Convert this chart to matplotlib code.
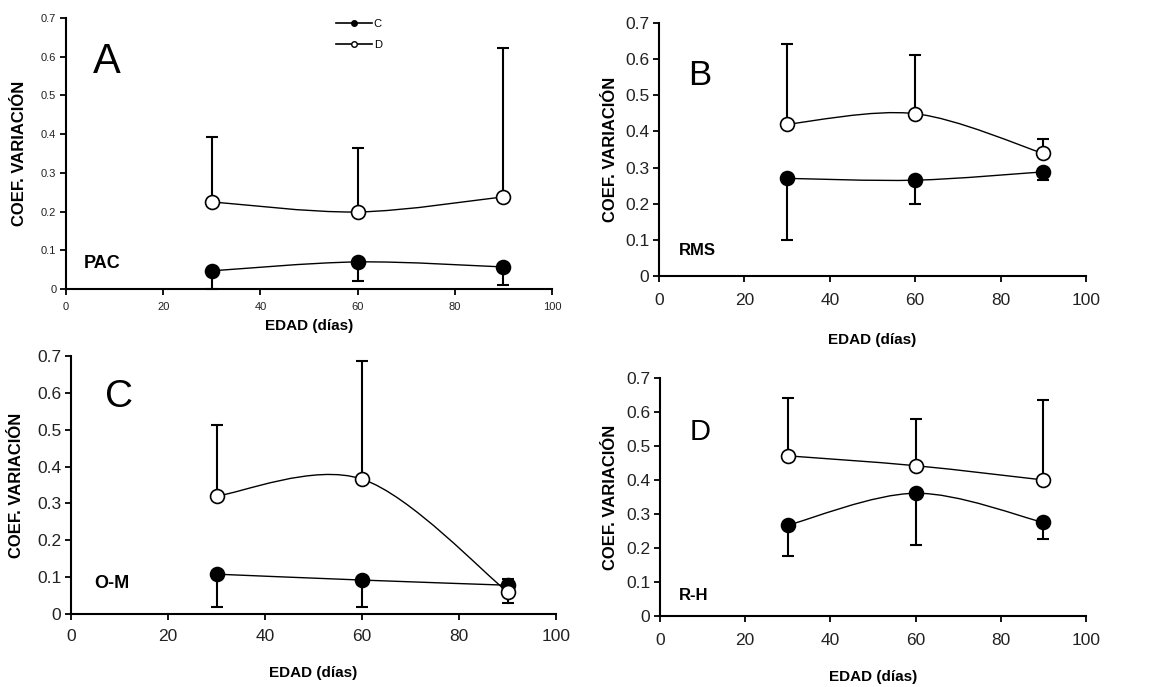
import matplotlib
matplotlib.use("Agg")
import matplotlib.pyplot as plt
import matplotlib.ticker as mticker
from matplotlib.path import Path
from matplotlib.patches import PathPatch

plt.rcParams['font.family'] = ['Liberation Sans', 'DejaVu Sans']

# Ages (days)
edad = [30, 60, 90]

# Panel A - PAC
pac_c = [0.047, 0.070, 0.057]
pac_c_sd = [0.047, 0.049, 0.047]
pac_d = [0.225, 0.199, 0.238]
pac_d_sd = [0.168, 0.166, 0.385]

# Panel B - RMS
rms_c = [0.270, 0.265, 0.288]
rms_c_sd = [0.170, 0.066, 0.023]
rms_d = [0.420, 0.449, 0.339]
rms_d_sd = [0.221, 0.163, 0.041]

# Panel C - O-M
om_c = [0.108, 0.092, 0.078]
om_c_sd = [0.088, 0.074, 0.049]
om_d = [0.320, 0.366, 0.060]
om_d_sd = [0.194, 0.320, 0.034]

# Panel D - R-H
rh_c = [0.267, 0.361, 0.275]
rh_c_sd = [0.090, 0.151, 0.049]
rh_d = [0.471, 0.442, 0.400]
rh_d_sd = [0.171, 0.136, 0.236]

y_ticks = [0, 0.1, 0.2, 0.3, 0.4, 0.5, 0.6, 0.7]
x_ticks = [0, 20, 40, 60, 80, 100]


# Smoothed (Excel-like) line through the points, drawn as cubic Bezier
def smooth_line(ax, xs, ys, lw=1.0):
    pts = list(zip(xs, ys))
    n = len(pts)
    verts = [pts[0]]
    codes = [Path.MOVETO]
    for i in range(n - 1):
        p0 = pts[i - 1] if i > 0 else pts[i]
        p1 = pts[i]
        p2 = pts[i + 1]
        p3 = pts[i + 2] if i + 2 < n else pts[i + 1]
        c1 = (p1[0] + (p2[0] - p0[0]) / 6, p1[1] + (p2[1] - p0[1]) / 6)
        c2 = (p2[0] - (p3[0] - p1[0]) / 6, p2[1] - (p3[1] - p1[1]) / 6)
        verts += [c1, c2, p2]
        codes += [Path.CURVE4] * 3
    ax.add_patch(PathPatch(Path(verts, codes), fill=False, lw=lw, color="black", zorder=2))


# One-sided error bar with a cap only at the far end
def one_sided_err(ax, xs, ys, sd, up=True):
    ends = [y + s if up else y - s for y, s in zip(ys, sd)]
    ax.vlines(xs, ys, ends, color="black", lw=1.5, zorder=3, clip_on=False)
    ax.plot(xs, ends, "_", ms=9, mew=1.5, color="black", zorder=3, clip_on=False)


def draw_panel(rect, c_vals, c_sd, d_vals, d_sd, letter, letter_size, letter_xy,
               tag, tag_size, tag_xy, tick_size, tick_pad, ylab_x, xlab_y, ms=10):
    ax = fig.add_axes(rect)
    smooth_line(ax, edad, d_vals)
    smooth_line(ax, edad, c_vals)

    # error bars: D upward, C downward
    one_sided_err(ax, edad, d_vals, d_sd, up=True)
    one_sided_err(ax, edad, c_vals, c_sd, up=False)

    ax.plot(edad, c_vals, "o", ms=ms, mfc="black", mec="black", mew=1.2, zorder=4,
            clip_on=False)
    ax.plot(edad, d_vals, "o", ms=ms, mfc="white", mec="black", mew=1.2, zorder=5,
            clip_on=False)

    ax.set_xlim(0, 100)
    ax.set_ylim(0, 0.7)
    ax.set_xticks(x_ticks)
    ax.set_yticks(y_ticks)
    ax.yaxis.set_major_formatter(mticker.FuncFormatter(lambda v, p: f"{v:g}"))
    ax.tick_params(direction="out", length=4, width=1.3, labelsize=tick_size,
                   labelcolor="#222222")
    ax.tick_params(axis="x", pad=tick_pad)
    ax.tick_params(axis="y", pad=3)
    for s in ["top", "right"]:
        ax.spines[s].set_visible(False)
    for s in ["left", "bottom"]:
        ax.spines[s].set_linewidth(1.5)

    ax.set_ylabel("COEF. VARIACIÓN", fontsize=12, fontweight="bold")
    ax.yaxis.set_label_coords(ylab_x, 0.5)
    ax.set_xlabel("EDAD (días)", fontsize=11, fontweight="bold")
    ax.xaxis.set_label_coords(0.5, xlab_y)

    ax.text(letter_xy[0], letter_xy[1], letter, transform=ax.transAxes,
            fontsize=letter_size, ha="left", va="center")
    ax.text(tag_xy[0], tag_xy[1], tag, transform=ax.transAxes, fontsize=tag_size,
            fontweight="bold", ha="left", va="center")
    return ax


fig = plt.figure(figsize=(11.74, 6.87), dpi=100)

ax_a = draw_panel([0.0562, 0.5793, 0.414, 0.3945], pac_c, pac_c_sd, pac_d, pac_d_sd,
                  "A", 30, (0.056, 0.838), "PAC", 13, (0.037, 0.096),
                  8, 5, -0.080, -0.111)
ax_b = draw_panel([0.5613, 0.5983, 0.3637, 0.3683], rms_c, rms_c_sd, rms_d, rms_d_sd,
                  "B", 25, (0.068, 0.794), "RMS", 12, (0.047, 0.099),
                  12.5, 8, -0.096, -0.225)
ax_c = draw_panel([0.0605, 0.1063, 0.4131, 0.3755], om_c, om_c_sd, om_d, om_d_sd,
                  "C", 28, (0.070, 0.841), "O-M", 13, (0.047, 0.12),
                  12.5, 7, -0.097, -0.202)
ax_d = draw_panel([0.5622, 0.1034, 0.3629, 0.3464], rh_c, rh_c_sd, rh_d, rh_d_sd,
                  "D", 21, (0.070, 0.773), "R-H", 12, (0.045, 0.088),
                  12.5, 8, -0.099, -0.227)

# legend in panel A
ax_a.plot([], [], "-o", color="black", ms=4, mfc="black", lw=1.2, label="C")
ax_a.plot([], [], "-o", color="black", ms=4, mfc="white", lw=1.2, label="D")
ax_a.legend(loc="upper left", bbox_to_anchor=(0.535, 1.035), frameon=False, fontsize=8,
            handlelength=3.2, handletextpad=0.2, labelspacing=1.0)

fig.savefig("out.png", dpi=100)
